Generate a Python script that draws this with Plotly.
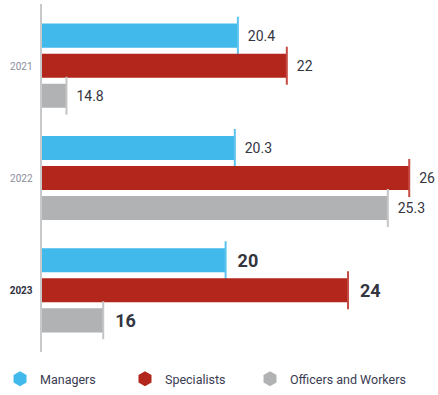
import plotly.graph_objects as go

years = ["2021", "2022", "2023"]
series_names = ["Managers", "Specialists", "Officers and Workers"]
managers = [20.4, 20.3, 20]
specialists = [22, 26, 24]
officers = [14.8, 25.3, 16]
year_tick_text = [
    "<span style='color:#8a8d9c;font-size:10px'>2021</span>",
    "<span style='color:#8a8d9c;font-size:10px'>2022</span>",
    "<span style='color:#2f3140;font-size:10px'><b>2023</b></span>",
]

bar_colors = ["#41b9eb", "#b2261b", "#b1b2b4"]
tick_colors = ["#5cc3ee", "#c64b45", "#c4c5c7"]
legend_ids = ["legend", "legend2", "legend3"]
legend_x = [-0.106, 0.2096, 0.5253]
FONT = "Roboto, Liberation Sans, sans-serif"
TEXT_COLOR = "#33353f"

def labels(vals):
    out = []
    for i, v in enumerate(vals):
        s = f"{v:g}"
        if i == 2:
            out.append("\u00a0\u00a0<b>" + s + "</b>")
        else:
            out.append("\u00a0\u00a0" + s)
    return out

fig = go.Figure()
for name, vals, c, tc, lg in zip(series_names, [managers, specialists, officers], bar_colors, tick_colors, legend_ids):
    fig.add_trace(go.Bar(
        y=years, x=vals, orientation="h", name=name,
        marker=dict(color=c, line=dict(width=0)),
        text=labels(vals), textposition="outside", constraintext="none",
        cliponaxis=False,
        textfont=dict(family=FONT, color=TEXT_COLOR, size=[14, 14, 18]),
        error_x=dict(type="constant", value=0, width=19, thickness=2, color=tc),
        showlegend=False, hoverinfo="skip",
    ))
    fig.add_trace(go.Scatter(
        x=[None], y=[None], mode="markers", name=name, legend=lg,
        marker=dict(symbol="hexagon", size=15, color=c),
        showlegend=True,
    ))

legend_common = dict(
    orientation="h", xanchor="left", y=-0.035, yanchor="top",
    font=dict(family=FONT, size=12.5, color="#3a3c52"),
    itemclick=False, itemdoubleclick=False, bgcolor="rgba(0,0,0,0)",
)

fig.update_layout(
    width=438, height=395,
    margin=dict(l=42, r=0, t=4, b=43, autoexpand=False),
    paper_bgcolor="white", plot_bgcolor="white",
    barmode="group", bargap=0.196, bargroupgap=0.2,
    font=dict(family=FONT, color=TEXT_COLOR),
    xaxis=dict(range=[14, 26.94], visible=False, showgrid=False, zeroline=False),
    yaxis=dict(
        type="category", categoryorder="array", categoryarray=years,
        range=[2.55, -0.55], showgrid=False, zeroline=False, automargin=False,
        showline=True, linecolor="#c8c9cb", linewidth=2,
        ticks="", tickmode="array", tickvals=years, ticktext=year_tick_text,
        ticklabelstandoff=5,
    ),
    legend=dict(x=legend_x[0], **legend_common),
    legend2=dict(x=legend_x[1], **legend_common),
    legend3=dict(x=legend_x[2], **legend_common),
)

fig.write_html(
    "out.html",
    config={"displayModeBar": False},
    post_script="document.body.style.margin='0px';document.body.style.overflow='hidden';",
)
